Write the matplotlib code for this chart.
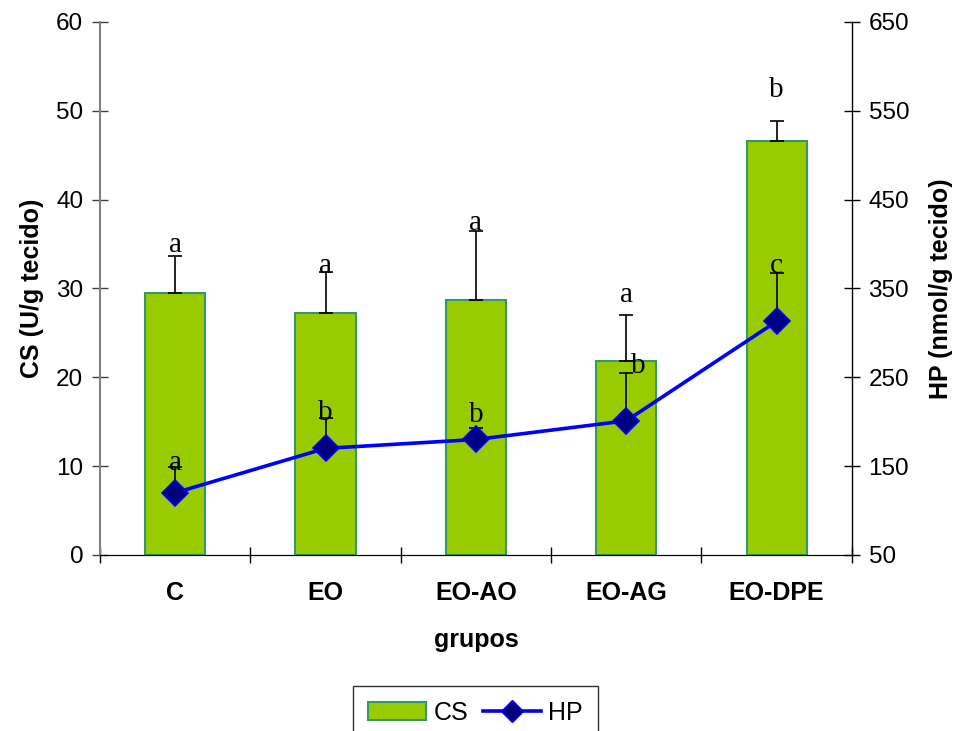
import numpy as np
import matplotlib
matplotlib.use("Agg")
import matplotlib.pyplot as plt
from matplotlib.lines import Line2D
from matplotlib.patches import Patch

plt.rcParams["font.family"] = ["Liberation Sans", "DejaVu Sans"]

grupos = ["C", "EO", "EO-AO", "EO-AG", "EO-DPE"]

# CS (U/g tecido), bars on the left axis
cs_mean = [29.5, 27.2, 28.7, 21.8, 46.6]
cs_err = [4.2, 4.7, 7.8, 5.2, 2.3]
cs_letters = ["a", "a", "a", "a", "b"]
cs_letter_y = [34.1, 31.7, 36.6, 28.5, 51.6]

# HP (nmol/g tecido), line on the right axis
hp_mean = [120, 170, 180, 201, 313]
hp_err = [29, 34, 13, 54, 54]
hp_letters = ["a", "b", "b", "b", "c"]
hp_letter_y = [146, 202, 200, 255, 367]
hp_letter_dx = [0, 0, 0, 0.08, 0]

fig = plt.figure(figsize=(9.55, 7.31), dpi=100)
ax = fig.add_axes([0.1047, 0.2408, 0.7873, 0.7292])
ax2 = ax.twinx()

x = np.arange(len(grupos))
zeros = np.zeros(len(grupos))

# bars + upper error bars
ax.bar(x, cs_mean, width=0.4, color="#99CC00", edgecolor="#339966", linewidth=1.5, zorder=2)
ax.errorbar(x, cs_mean, yerr=[zeros, cs_err], fmt="none", ecolor="black",
            elinewidth=1.2, capsize=5, capthick=1.2, zorder=3)
for xi, lab, yl in zip(x, cs_letters, cs_letter_y):
    ax.text(xi, yl, lab, ha="center", va="baseline", fontsize=21,
            family="Liberation Serif", zorder=4)

# HP line
ax2.errorbar(x, hp_mean, yerr=[zeros, hp_err], fmt="none", ecolor="black",
             elinewidth=1.2, capsize=5, capthick=1.2, zorder=2)
ax2.plot(x, hp_mean, color="#0000FF", linewidth=2.6, marker="D", markersize=13,
         markerfacecolor="#000080", markeredgecolor="#0000FF", markeredgewidth=1.2, zorder=3)
for xi, lab, yl, dx in zip(x, hp_letters, hp_letter_y, hp_letter_dx):
    ax2.text(xi + dx, yl, lab, ha="center", va="baseline", fontsize=21,
             family="Liberation Serif", zorder=4)

# axes
ax.set_xlim(-0.5, len(grupos) - 0.5)
ax.set_ylim(0, 60)
ax.set_yticks(np.arange(0, 61, 10))
ax2.set_ylim(50, 650)
ax2.set_yticks(np.arange(50, 651, 100))

ax.set_xticks(np.arange(-0.5, len(grupos), 1.0))
ax.set_xticklabels([])
ax.set_xticks(x, minor=True)
ax.set_xticklabels(grupos, minor=True, fontsize=18, fontweight="bold")
ax.tick_params(axis="x", which="major", direction="inout", length=11, width=1)
ax.tick_params(axis="x", which="minor", length=0, pad=19)
ax.tick_params(axis="y", direction="inout", length=12, width=1, labelsize=17.5, pad=6)
ax2.tick_params(axis="y", direction="inout", length=12, width=1, labelsize=17.5, pad=6)

for a in (ax, ax2):
    a.spines["top"].set_visible(False)
ax.spines["left"].set_color("#808080")
ax.spines["left"].set_linewidth(1.5)
ax.tick_params(axis="y", color="#404040")
ax2.spines["left"].set_visible(False)
ax2.spines["right"].set_color("black")
ax2.spines["right"].set_linewidth(1)
ax.spines["right"].set_visible(False)

ax.set_xlabel("grupos", fontsize=18, fontweight="bold", labelpad=16)
ax.set_ylabel("CS (U/g tecido)", fontsize=18, fontweight="bold", labelpad=9)
ax2.set_ylabel("HP (nmol/g tecido)", fontsize=18, fontweight="bold", labelpad=14)

handles = [
    Patch(facecolor="#99CC00", edgecolor="#339966", linewidth=1.5),
    Line2D([], [], color="#0000FF", linewidth=2.6, marker="D", markersize=11,
           markerfacecolor="#000080", markeredgecolor="#0000FF"),
]
leg = fig.legend(handles, ["CS", "HP"], loc="upper center", bbox_to_anchor=(0.498, 0.062),
                 borderaxespad=0, ncol=2, fontsize=18, frameon=True, fancybox=False,
                 edgecolor="black", handlelength=2.3, columnspacing=0.6,
                 handletextpad=0.3, borderpad=0.6)
leg.get_frame().set_linewidth(1)

fig.savefig("out.png", dpi=100)
